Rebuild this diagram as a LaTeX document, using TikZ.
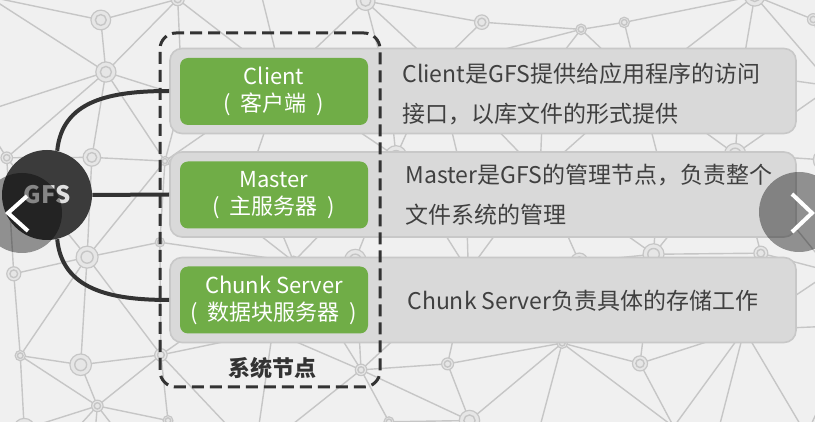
\documentclass[tikz,border=0pt]{standalone}
\usepackage{fontspec}
\setmainfont{Noto Sans CJK SC}
\usetikzlibrary{positioning,calc}
\definecolor{bgc}{HTML}{F0F0F0}
\definecolor{netc}{HTML}{C6C6C6}
\definecolor{ringc}{HTML}{E6E6E6}
\definecolor{grn}{HTML}{70AD47}
\definecolor{rowc}{HTML}{D9D9D9}
\definecolor{rowline}{HTML}{C8C8C8}
\definecolor{ink}{HTML}{404040}
\definecolor{dark}{HTML}{333333}
\definecolor{hub}{HTML}{3B3B3B}
\newcommand{\cnparen}[1]{(\hspace{0.45em}#1\hspace{0.45em})}
\tikzset{
  rowbox/.style={draw=rowline,fill=rowc,rounded corners=6pt,line width=0.8pt,minimum width=313pt,minimum height=42.5pt},
  gbox/.style={fill=grn,rounded corners=4pt,minimum width=94pt,minimum height=33.5pt,text=white,font=\fontsize{11}{13.5}\selectfont,align=center,inner sep=0pt},
  desc/.style={text=ink,font=\fontsize{11.5}{20}\selectfont,align=left,inner sep=0pt,anchor=west},
  sysbox/.style={draw=dark,line width=1.5pt,dash pattern=on 6pt off 3pt,rounded corners=8pt,minimum width=110pt,minimum height=177pt},
  link/.style={draw=dark,line width=2pt},
  hubnode/.style={circle,fill=hub,minimum size=45pt,inner sep=0pt,text=white!88!black,font=\bfseries\fontsize{12}{12}\selectfont},
  navbtn/.style={circle,fill=black,fill opacity=0.4,minimum size=40pt,inner sep=0pt},
  chev/.style={draw=white,line width=2pt},
  net/.style={draw=netc,line width=0.7pt},
  ring/.style={draw=netc,fill=ringc,line width=0.6pt},
}

\begin{document}
\begin{tikzpicture}[x=0.5pt,y=-0.5pt]
\clip (0,0) rectangle (815,422);
\fill[bgc] (0,0) rectangle (815,422);
% background network
\pgfmathsetseed{42}
\foreach \i in {0,...,10}{
  \foreach \j in {0,...,6}{
    \pgfmathsetmacro\px{\i*92-25+rnd*55}
    \pgfmathsetmacro\py{\j*85-20+rnd*50}
    \coordinate (n-\i-\j) at (\px,\py);
  }
}
\foreach \i in {0,...,9}{
  \foreach \j in {0,...,5}{
    \pgfmathtruncatemacro\ii{\i+1}
    \pgfmathtruncatemacro\jj{\j+1}
    \pgfmathtruncatemacro\oddcell{mod(\i+\j,2)}
    \draw[net] (n-\i-\j) -- (n-\ii-\j) (n-\i-\j) -- (n-\i-\jj);
    \ifnum\oddcell=0 \draw[net] (n-\i-\j) -- (n-\ii-\jj);
    \else \draw[net] (n-\ii-\j) -- (n-\i-\jj); \fi
  }
}
\foreach \i in {0,...,10}{
  \foreach \j in {0,...,6}{
    \pgfmathsetmacro\r{4+rnd*7}
    \draw[ring] (n-\i-\j) circle (\r);
    \draw[net] (n-\i-\j) circle (\r*0.55);
  }
}
% rows
\node[rowbox] (row1) at (483,91) {};
\node[rowbox] (row2) at (483,194.5) {};
\node[rowbox] (row3) at (483,300) {};
\node[gbox] (client) at (274,91.5) {Client\\\cnparen{客户端}};
\node[gbox] (master) at (274,195) {Master\\\cnparen{主服务器}};
\node[gbox] (chunk) at (274,300) {Chunk Server\\\cnparen{数据块服务器}};
\node[desc] (d1) at (402,94) {Client是GFS提供给应用程序的访问\\接口，以库文件的形式提供};
\node[desc] (d2) at (405,194.5) {Master是GFS的管理节点，负责整个\\文件系统的管理};
\node[desc] (d3) at (407,301) {Chunk Server负责具体的存储工作};
% system nodes frame
\node[sysbox] (sys) at (270,210) {};
\node[text=dark,font=\bfseries\fontsize{11}{12}\selectfont] (syslab) at (272,368) {系统节点};
% hub and links
\node[hubnode] (gfs) at (47,195) {GFS};
\draw[link] (gfs.77) .. controls +(5,-50) and +(-60,0) .. (row1.west);
\draw[link] (gfs.east) -- (row2.west);
\draw[link] (gfs.-77) .. controls +(5,50) and +(-60,0) .. (row3.west);
% navigation buttons
\node[navbtn] (prev) at (22,213) {};
\node[navbtn] (next) at (799,212) {};
\draw[chev] ($(prev)+(5,-17)$) -- ($(prev)+(-14,0)$) -- ($(prev)+(6,18)$);
\draw[chev] ($(next)+(-7,-18)$) -- ($(next)+(13,1)$) -- ($(next)+(-7,20)$);
\end{tikzpicture}
\end{document}
